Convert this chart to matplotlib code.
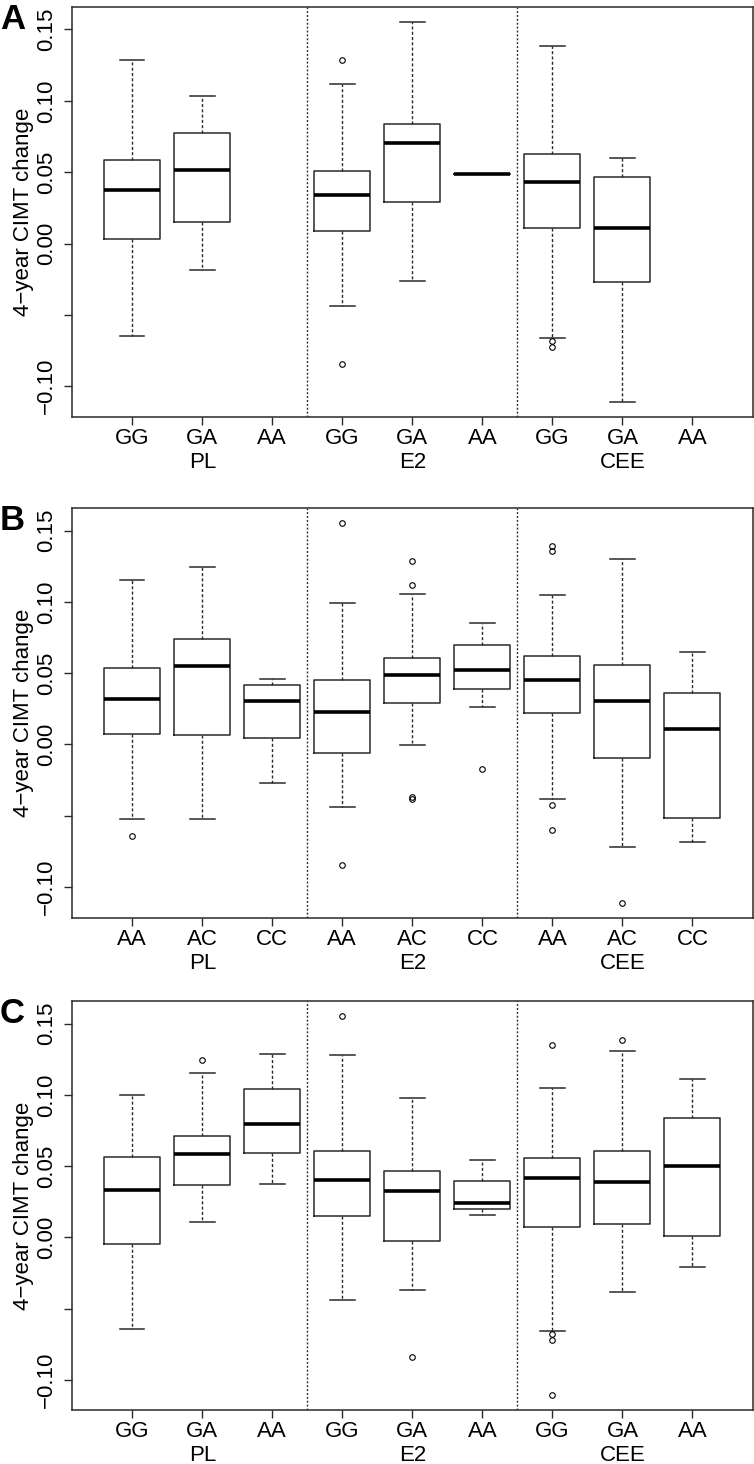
import matplotlib
matplotlib.use("Agg")
import matplotlib.pyplot as plt
from matplotlib.transforms import blended_transform_factory

plt.rcParams['font.family'] = ['Liberation Sans', 'DejaVu Sans']

W, H, DPI = 754, 1464, 100

groups = ["PL", "E2", "CEE"]

# ---------------- Panel A ----------------
a_ticks = ["GG", "GA", "AA", "GG", "GA", "AA", "GG", "GA", "AA"]
a_whislo = [-0.0645, -0.0187, None, -0.0435, -0.0262, 0.0488, -0.0659, -0.1107, None]
a_q1     = [0.0035, 0.0150, None, 0.0089, 0.0294, 0.0488, 0.0107, -0.0269, None]
a_med    = [0.0374, 0.0516, None, 0.0339, 0.0701, 0.0488, 0.0430, 0.0110, None]
a_q3     = [0.0582, 0.0773, None, 0.0505, 0.0836, 0.0488, 0.0626, 0.0463, None]
a_whishi = [0.1287, 0.1037, None, 0.1119, 0.1549, 0.0488, 0.1386, 0.0598, None]
a_fliers = [[], [], [], [0.1283, -0.0843], [], [], [-0.0682, -0.0722], [], []]

# ---------------- Panel B ----------------
b_ticks = ["AA", "AC", "CC", "AA", "AC", "CC", "AA", "AC", "CC"]
b_whislo = [-0.0526, -0.0526, -0.0273, -0.0437, -0.0002, 0.0264, -0.0386, -0.0717, -0.0682]
b_q1     = [0.0070, 0.0065, 0.0044, -0.0058, 0.0294, 0.0386, 0.0217, -0.0096, -0.0519]
b_med    = [0.0320, 0.0551, 0.0304, 0.0231, 0.0484, 0.0523, 0.0449, 0.0304, 0.0110]
b_q3     = [0.0537, 0.0738, 0.0416, 0.0449, 0.0610, 0.0699, 0.0624, 0.0558, 0.0364]
b_whishi = [0.1157, 0.1248, 0.0460, 0.0995, 0.1058, 0.0855, 0.1049, 0.1304, 0.0647]
b_fliers = [[-0.0643], [], [], [0.1551, -0.0843], [0.1285, 0.1119, -0.0367, -0.0386],
            [-0.0173], [0.1393, 0.1355, -0.0428, -0.0603], [-0.1110], []]

# ---------------- Panel C ----------------
c_ticks = ["GG", "GA", "AA", "GG", "GA", "AA", "GG", "GA", "AA"]
c_whislo = [-0.0643, 0.0110, 0.0376, -0.0437, -0.0369, 0.0157, -0.0654, -0.0383, -0.0208]
c_q1     = [-0.0044, 0.0371, 0.0591, 0.0147, -0.0026, 0.0196, 0.0070, 0.0091, 0.0007]
c_med    = [0.0336, 0.0582, 0.0799, 0.0402, 0.0327, 0.0241, 0.0416, 0.0388, 0.0498]
c_q3     = [0.0561, 0.0713, 0.1044, 0.0605, 0.0463, 0.0393, 0.0558, 0.0605, 0.0841]
c_whishi = [0.1000, 0.1154, 0.1287, 0.1283, 0.0979, 0.0542, 0.1051, 0.1308, 0.1110]
c_fliers = [[], [0.1245], [], [0.1551], [-0.0841], [], [0.1350, -0.0680, -0.0717, -0.1105],
            [0.1388], []]

yticks = [-0.10, -0.05, 0.00, 0.05, 0.10, 0.15]
ytick_labels = ["\u22120.10", "", "0.00", "0.05", "0.10", "0.15"]
ylabel = "4\u2212year CIMT change"

panels = [
    ("A", 7.3, 416.7, a_ticks, a_whislo, a_q1, a_med, a_q3, a_whishi, a_fliers),
    ("B", 508.3, 917.7, b_ticks, b_whislo, b_q1, b_med, b_q3, b_whishi, b_fliers),
    ("C", 1001.3, 1410.0, c_ticks, c_whislo, c_q1, c_med, c_q3, c_whishi, c_fliers),
]

fig = plt.figure(figsize=(W / DPI, H / DPI), dpi=DPI)
edge = "#2a2a2a"
left_px, right_px = 72.0, 752.7

for letter, top_px, bot_px, ticks, wlo, q1, med, q3, whi, fl in panels:
    ax = fig.add_axes([left_px / W, 1 - bot_px / H, (right_px - left_px) / W, (bot_px - top_px) / H])
    stats = []
    positions = []
    for i in range(len(ticks)):
        if med[i] is None:
            continue
        stats.append(dict(whislo=wlo[i], q1=q1[i], med=med[i], q3=q3[i], whishi=whi[i],
                          fliers=fl[i]))
        positions.append(i + 1)
    ax.bxp(stats, positions=positions, widths=0.8, capwidths=0.35, showfliers=True,
           boxprops=dict(color=edge, linewidth=1.1),
           medianprops=dict(color="black", linewidth=2.6, solid_capstyle="butt"),
           whiskerprops=dict(color=edge, linewidth=1.0, linestyle=(0, (2.2, 1.6))),
           capprops=dict(color=edge, linewidth=1.1),
           flierprops=dict(marker="o", markersize=4.0, markerfacecolor="none",
                           markeredgecolor="black", markeredgewidth=0.8, linestyle="none"),
           manage_ticks=False)
    # R-style 4% extension
    vals = [v for v in wlo + whi if v is not None] + [f for lst in fl for f in lst]
    lo, hi = min(vals), max(vals)
    ext = 0.04 * (hi - lo)
    ax.set_ylim(lo - ext, hi + ext)
    n = len(ticks)
    ax.set_xlim(0.5 - 0.04 * n, n + 0.5 + 0.04 * n)
    for xv in (3.5, 6.5):
        ax.axvline(xv, color=edge, linewidth=1.0, linestyle=(0, (1.4, 1.4)))
    ax.set_xticks(range(1, n + 1))
    ax.set_xticklabels(ticks, fontsize=16)
    ax.set_yticks(yticks)
    ax.set_yticklabels(ytick_labels, fontsize=16, rotation=90, va="center")
    ax.tick_params(axis="x", length=6, width=1.0, color=edge, pad=2)
    ax.tick_params(axis="y", length=6, width=1.0, color=edge, pad=5)
    for s in ax.spines.values():
        s.set_color(edge)
        s.set_linewidth(1.1)
    tr = blended_transform_factory(ax.transData, ax.transAxes)
    for gi, g in enumerate(groups):
        ax.text(2 + 3 * gi, -0.112, g, transform=tr, ha="center", va="center", fontsize=16)
    fig.text(24 / W, 1 - ((top_px + bot_px) / 2) / H, ylabel, rotation=90,
             ha="center", va="center", fontsize=16)
    fig.text(0.0, 1 - (top_px - 4) / H, letter, ha="left", va="top",
             fontsize=25, fontweight="bold")

fig.savefig("out.png", dpi=DPI)
